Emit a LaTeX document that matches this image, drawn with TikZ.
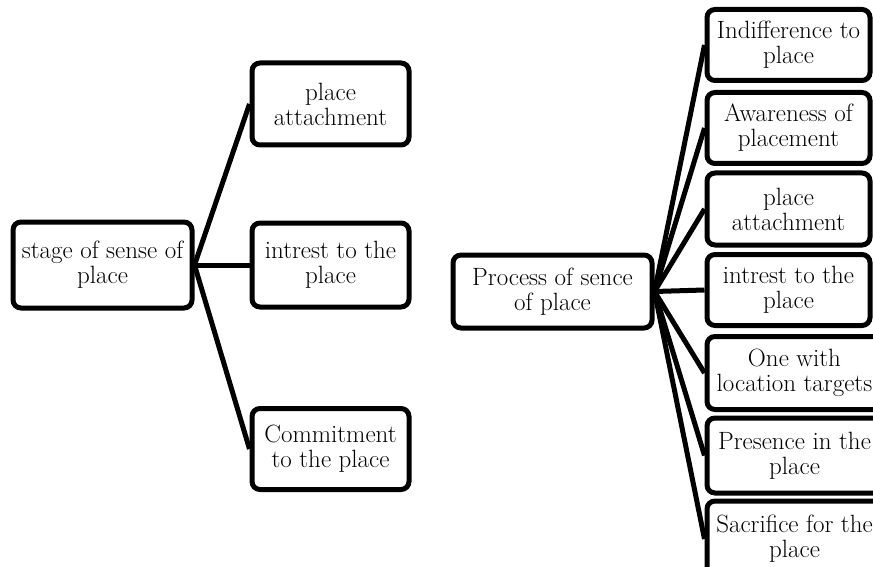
\documentclass[tikz,border=0pt]{standalone}
\begin{document}
\begin{tikzpicture}[x=1pt,y=-1pt,
  box/.style={draw=black, line width=5pt, rounded corners=8pt, fill=white,
    align=center, inner sep=0pt, font=\fontsize{25}{25}\selectfont},
  link/.style={draw=black, line width=5pt}]
\useasboundingbox (0,0) rectangle (873,567);
% left tree
\node[box, minimum width=179pt, minimum height=86pt] (L) at (102.5,265) {stage of sense of\\place};
\node[box, minimum width=157pt, minimum height=82pt] (L1) at (330.5,104) {place\\attachment};
\node[box, minimum width=157pt, minimum height=84pt] (L2) at (330.5,265) {intrest to the\\place};
\node[box, minimum width=157pt, minimum height=81pt] (L3) at (330.5,449) {Commitment\\to the place};
\foreach \c in {L1,L2,L3} \draw[link] (L.east) -- (\c.west);
% right tree
\node[box, minimum width=199pt, minimum height=73pt] (R) at (552.5,291.5) {Process of sence\\of place};
\node[box, minimum width=163pt, minimum height=71pt] (R1) at (788.5,45) {Indifference to\\place};
\node[box, minimum width=163pt, minimum height=71pt] (R2) at (788.5,128) {Awareness of\\placement};
\node[box, minimum width=163pt, minimum height=72pt] (R3) at (788.5,209) {place\\attachment};
\node[box, minimum width=163pt, minimum height=71pt] (R4) at (788.5,290) {intrest to the\\place};
\node[box, minimum width=175pt, minimum height=73pt] (R5) at (794.5,373) {One with\\location targets};
\node[box, minimum width=175pt, minimum height=75pt] (R6) at (794.5,455.5) {Presence in the\\place};
\node[box, minimum width=175pt, minimum height=76pt] (R7) at (794.5,539) {Sacrifice for the\\place};
\foreach \c in {R1,R2,R3,R4,R5,R6,R7} \draw[link] (R.east) -- (\c.west);
\end{tikzpicture}
\end{document}
